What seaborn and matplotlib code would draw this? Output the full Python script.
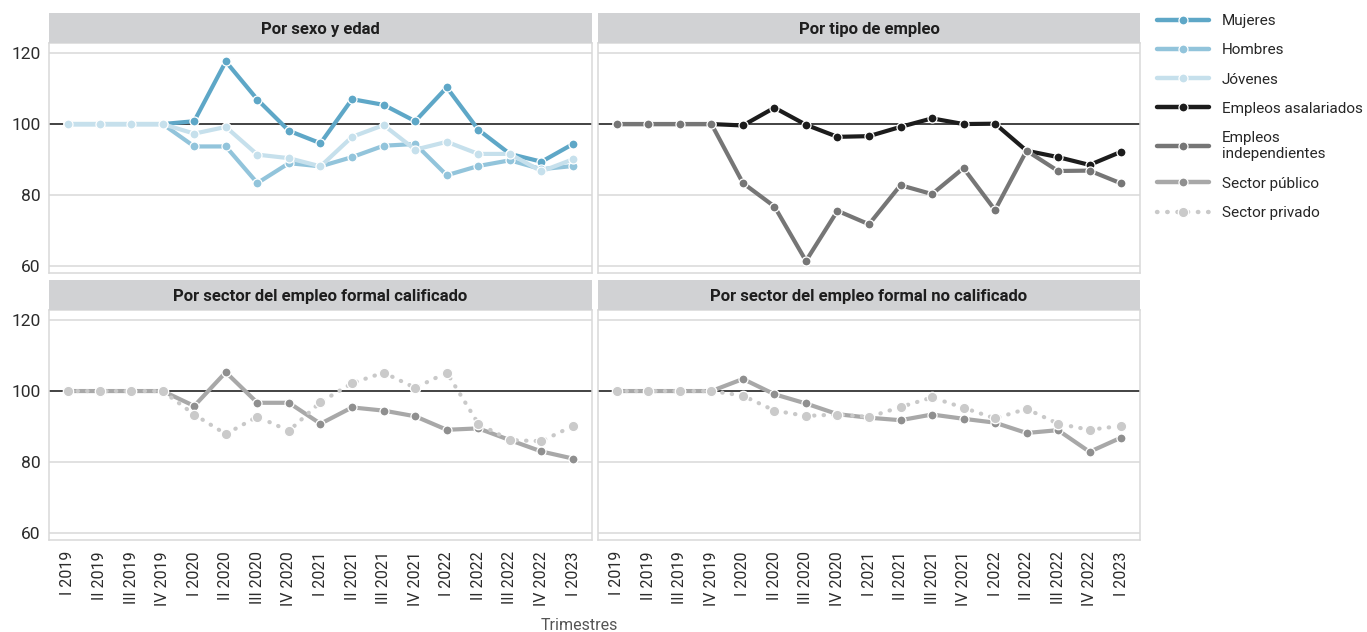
import matplotlib
matplotlib.use("Agg")
import matplotlib.pyplot as plt
from matplotlib.lines import Line2D
import seaborn as sns

sns.set_theme(style="white")
plt.rcParams["font.family"] = ["Roboto", "DejaVu Sans"]

# Quarterly index values (I 2019 = 100)
trimestres = ["I 2019", "II 2019", "III 2019", "IV 2019",
              "I 2020", "II 2020", "III 2020", "IV 2020",
              "I 2021", "II 2021", "III 2021", "IV 2021",
              "I 2022", "II 2022", "III 2022", "IV 2022", "I 2023"]

mujeres = [100, 100, 100, 100, 100.8, 117.6, 106.9, 98.1, 94.6, 107.0, 105.4, 100.8, 110.3, 98.4, 91.6, 89.4, 94.4]
hombres = [100, 100, 100, 100, 93.7, 93.7, 83.4, 89.0, 88.1, 90.7, 93.9, 94.4, 85.6, 88.2, 89.8, 87.3, 88.2]
jovenes = [100, 100, 100, 100, 97.3, 99.2, 91.4, 90.4, 88.1, 96.4, 99.7, 92.8, 95.0, 91.6, 91.6, 86.7, 90.1]

asalariados = [100, 100, 100, 100, 99.6, 104.6, 99.8, 96.4, 96.6, 99.2, 101.6, 100.0, 100.1, 92.5, 90.7, 88.5, 92.2]
independientes = [100, 100, 100, 100, 83.4, 76.8, 61.5, 75.6, 71.8, 82.8, 80.3, 87.6, 75.8, 92.5, 86.8, 86.9, 83.3]

publico_calif = [100, 100, 100, 100, 95.8, 105.3, 96.7, 96.7, 90.8, 95.4, 94.5, 92.9, 89.1, 89.5, 86.2, 83.0, 81.0]
privado_calif = [100, 100, 100, 100, 93.4, 87.9, 92.8, 88.8, 96.9, 102.2, 105.2, 100.9, 105.2, 90.8, 86.2, 85.9, 90.2]

publico_nocalif = [100, 100, 100, 100, 103.4, 99.1, 96.5, 93.5, 92.5, 91.8, 93.4, 92.2, 91.1, 88.2, 89.0, 82.9, 86.9]
privado_nocalif = [100, 100, 100, 100, 98.7, 94.5, 93.0, 93.4, 92.7, 95.5, 98.2, 95.3, 92.3, 95.0, 90.8, 89.1, 90.2]

titulos = ["Por sexo y edad", "Por tipo de empleo",
           "Por sector del empleo formal calificado",
           "Por sector del empleo formal no calificado"]

# Series styles
estilos = {
    "Mujeres": dict(color="#5ea7c7", mfc="#5ea7c7", ls="-", ms=6.5),
    "Hombres": dict(color="#92c4db", mfc="#92c4db", ls="-", ms=6.5),
    "Jóvenes": dict(color="#c6e0ec", mfc="#c6e0ec", ls="-", ms=6.5),
    "Empleos asalariados": dict(color="#1c1c1c", mfc="#1c1c1c", ls="-", ms=6.5),
    "Empleos\nindependientes": dict(color="#767676", mfc="#767676", ls="-", ms=6.5),
    "Sector público": dict(color="#a8a8a8", mfc="#8f8f8f", ls="-", ms=6.5),
    "Sector privado": dict(color="#c9c9c9", mfc="#cacaca", ls=(0, (0.1, 2.2)), ms=7.5),
}

paneles = [
    [("Mujeres", mujeres), ("Hombres", hombres), ("Jóvenes", jovenes)],
    [("Empleos asalariados", asalariados), ("Empleos\nindependientes", independientes)],
    [("Sector público", publico_calif), ("Sector privado", privado_calif)],
    [("Sector público", publico_nocalif), ("Sector privado", privado_nocalif)],
]

W, H = 1367, 632
fig = plt.figure(figsize=(W / 100, H / 100), dpi=100)

# panel boxes in pixels: (left, top, right, bottom)
cajas = [(49, 43, 592, 273), (598, 43, 1140, 273),
         (49, 310, 592, 540), (598, 310, 1140, 540)]
strip_h = 30
grid_c = "#d9d9d9"

for i, (caja, titulo, series) in enumerate(zip(cajas, titulos, paneles)):
    l, t, r, b = caja
    ax = fig.add_axes([l / W, 1 - b / H, (r - l) / W, (b - t) / H])
    for y in [60, 80, 120]:
        ax.axhline(y, color=grid_c, lw=1.1, zorder=0)
    ax.axhline(100, color="#222222", lw=1.2, zorder=1)

    for nombre, vals in series:
        st = estilos[nombre]
        sns.lineplot(x=trimestres, y=vals, ax=ax, sort=False,
                     color=st["color"], lw=3, linestyle=st["ls"],
                     dash_capstyle="round", solid_capstyle="butt",
                     marker="o", markersize=st["ms"],
                     markerfacecolor=st["mfc"], markeredgecolor="white",
                     markeredgewidth=0.9, zorder=3)

    ax.set_xlim(-0.6, 16.6)
    ax.set_ylim(58.1, 122.8)
    ax.set_yticks([60, 80, 100, 120])
    ax.set_xlabel("")
    ax.set_ylabel("")
    for sp in ax.spines.values():
        sp.set_color(grid_c)
        sp.set_linewidth(1.1)

    ax.tick_params(axis="y", length=0, pad=6, labelsize=12.5, labelcolor="#2b2b2b")
    ax.tick_params(axis="x", length=4, width=0.8, color="#cccccc", pad=4,
                   labelsize=11.5, labelcolor="#2b2b2b", labelrotation=90)
    if i % 2 == 1:
        ax.tick_params(axis="y", labelleft=False)
    if i < 2:
        ax.tick_params(axis="x", labelbottom=False, length=0)

    # title strip
    sax = fig.add_axes([l / W, 1 - t / H, (r - l) / W, strip_h / H])
    sax.set_facecolor("#d1d2d4")
    sax.set_xticks([])
    sax.set_yticks([])
    for sp in sax.spines.values():
        sp.set_visible(False)
    sax.text(0.5, 0.45, titulo, ha="center", va="center", fontsize=12,
             fontweight="bold", color="#1e1e1e", transform=sax.transAxes)

fig.text(579 / W, 1 - 625 / H, "Trimestres", ha="center", va="center",
         fontsize=11.5, color="#555555")

# legend
handles, labels = [], []
for nombre, st in estilos.items():
    handles.append(Line2D([], [], color=st["color"], lw=3.2, linestyle=st["ls"],
                          dash_capstyle="round", marker="o", markersize=st["ms"],
                          markerfacecolor=st["mfc"], markeredgecolor="white",
                          markeredgewidth=0.9))
    labels.append(nombre)
fig.legend(handles, labels, loc="upper left",
           bbox_to_anchor=(1157 / W, 1 - 14 / H), frameon=False,
           fontsize=11, handlelength=3.4, handletextpad=0.85,
           labelspacing=1.0, borderaxespad=0, borderpad=0)

fig.savefig("out.png", dpi=100)
